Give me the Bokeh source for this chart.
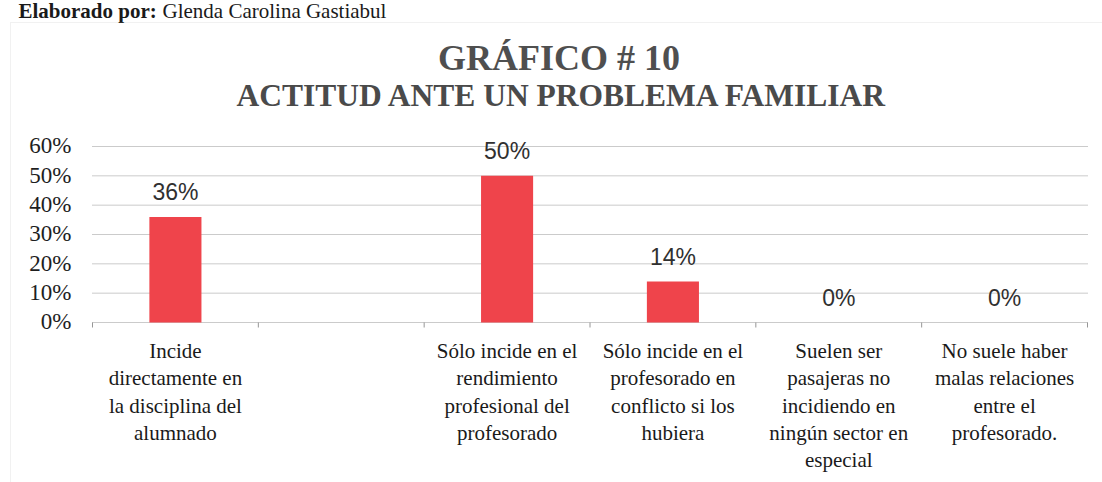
import math
from bokeh.plotting import figure
from bokeh.models import Label, Range1d, BoxAnnotation
from bokeh.embed import file_html
from bokeh.resources import INLINE

# ---- data ----
categories = [
    "Incide\ndirectamente en\nla disciplina del\nalumnado",
    "",
    "Sólo incide en el\nrendimiento\nprofesional del\nprofesorado",
    "Sólo incide en el\nprofesorado en\nconflicto si los\nhubiera",
    "Suelen ser\npasajeras no\nincidiendo en\nningún sector en\nespecial",
    "No suele haber\nmalas relaciones\nentre el\nprofesorado.",
]
values = [0.36, None, 0.50, 0.14, 0.00, 0.00]
y_ticks = [0.0, 0.1, 0.2, 0.3, 0.4, 0.5, 0.6]
title_text = "GRÁFICO  # 10"
subtitle_text = "ACTITUD ANTE UN PROBLEMA FAMILIAR"
credit_bold = "Elaborado por:"
credit_name = "Glenda Carolina Gastiabul"

# ---- layout (pixels) ----
W, H = 1102, 482
PLOT_L, PLOT_R = 92, 1087      # pixel x of first / last category boundary
PLOT_T, PLOT_B = 146, 322      # pixel y of top tick / zero line
n = len(categories)
ymax = max(y_ticks)
xpx = (PLOT_R - PLOT_L) / n
ypx = (PLOT_B - PLOT_T) / ymax
SHIFT = 0.37                   # observed baseline drop (in em) of "alphabetic" labels
LINE_H = 27.4                  # category label line spacing (px)

x_range = Range1d(-PLOT_L / xpx, n + (W - PLOT_R) / xpx)
y_range = Range1d(-(H - PLOT_B) / ypx, ymax + PLOT_T / ypx)

p = figure(width=W, height=H, x_range=x_range, y_range=y_range,
           x_axis_type=None, y_axis_type=None, output_backend="svg",
           toolbar_location=None, min_border=0)
p.outline_line_color = None
p.background_fill_color = "white"
p.border_fill_color = "white"
p.xgrid.visible = False
p.ygrid.visible = False

SERIF = "'Liberation Serif'"
SANS = "'Liberation Sans'"


def sx(x):
    """data x -> screen x (frame spans the whole canvas)"""
    return (x - x_range.start) / (x_range.end - x_range.start) * W


def sy(y):
    """data y -> screen y measured from the bottom"""
    return (y - y_range.start) / (y_range.end - y_range.start) * H


def lab(x, y, text, fs, font=SERIF, style="normal", color="#1a1a1a",
        align="center", dy=0.0, dx=0.0):
    """Label (screen units) whose alphabetic baseline sits dy px above (x, y)."""
    p.add_layout(Label(x=x + dx, y=y + dy + SHIFT * fs, x_units="screen",
                       y_units="screen", text=text,
                       text_align=align, text_baseline="alphabetic",
                       text_font=font, text_font_style=style,
                       text_font_size=f"{fs}px", text_color=color))


# grid lines (dotted) incl. zero line
p.segment(x0=[0] * len(y_ticks), x1=[n] * len(y_ticks), y0=y_ticks, y1=y_ticks,
          line_color="#969696", line_dash="1 1", line_width=1)
# category boundary tick marks
p.ray(x=list(range(n + 1)), y=[0] * (n + 1), length=5, length_units="screen",
      angle=-math.pi / 2, line_color="#969696", line_width=1)

# y tick labels (digits centred on the grid line)
for t in y_ticks:
    lab(sx(0), sy(t), f"{round(t * 100)}%", 23, align="right", dx=-21, dy=-8,
        color="#1e1e1e")

# bars
bar_x = [i + 0.5 for i, v in enumerate(values) if v is not None]
bar_v = [v for v in values if v is not None]
p.vbar(x=bar_x, top=bar_v, bottom=0, width=0.314,
       fill_color="#EF444B", line_color=None)

# value labels
for bx, bv in zip(bar_x, bar_v):
    lab(sx(bx), sy(bv), f"{round(bv * 100)}%", 23, font=SANS, dy=16, color="#303030")

# category labels, one Label per line
for i, c in enumerate(categories):
    if not c:
        continue
    for k, line in enumerate(c.split("\n")):
        lab(sx(i + 0.5), sy(0), line, 21, dy=-(36 + LINE_H * k))

# titles
lab(563, H - 71, title_text, 36, style="bold", color="#4f4f4f")
lab(562, H - 107, subtitle_text, 31.5, style="bold", color="#4a4a4a")

# credit line at the very top
lab(18, H - 18, credit_bold, 21, style="bold", align="left")
lab(162, H - 18, credit_name, 21, align="left")

# chart box border (dotted)
p.add_layout(BoxAnnotation(left=10, right=W + 50, top=H - 22, bottom=-50,
                           left_units="screen", right_units="screen",
                           top_units="screen", bottom_units="screen",
                           fill_color=None, line_color="#a0a0a0",
                           line_dash="1 1", line_width=1))

open("out.html", "w").write(file_html(p, INLINE))
